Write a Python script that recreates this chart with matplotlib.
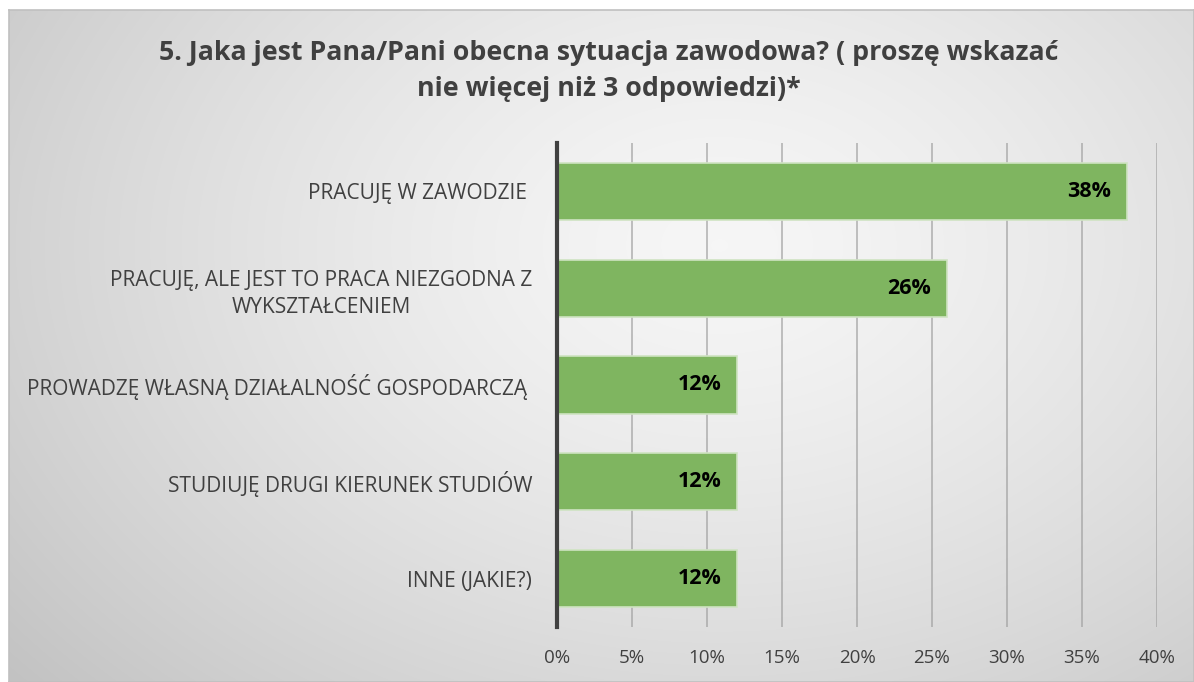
import matplotlib
matplotlib.use('Agg')
import matplotlib.pyplot as plt
import numpy as np

plt.rcParams['font.family'] = ['Open Sans', 'DejaVu Sans']

categories = [
    'PRACUJĘ W ZAWODZIE ',
    'PRACUJĘ, ALE JEST TO PRACA NIEZGODNA Z\nWYKSZTAŁCENIEM',
    'PROWADZĘ WŁASNĄ DZIAŁALNOŚĆ GOSPODARCZĄ ',
    'STUDIUJĘ DRUGI KIERUNEK STUDIÓW',
    'INNE (JAKIE?)',
]
values = [38, 26, 12, 12, 12]
xticks = [0, 5, 10, 15, 20, 25, 30, 35, 40]
title = '5. Jaka jest Pana/Pani obecna sytuacja zawodowa? ( proszę wskazać\nnie więcej niż 3 odpowiedzi)*'

W, H = 1194, 682
fig = plt.figure(figsize=(W / 100, H / 100), dpi=100)
fig.patch.set_facecolor('white')

# chart area with radial gray gradient
x0, y0, x1, y1 = 9, 10, 1194, 682
bg = fig.add_axes([x0 / W, 1 - y1 / H, (x1 - x0) / W, (y1 - y0) / H])
gx, gy = np.meshgrid(np.linspace(0, 1, 400), np.linspace(0, 1, 300))
r = np.sqrt(((gx - 0.6) / 0.75) ** 2 + ((gy - 0.35) / 0.95) ** 2)
shade = 0.965 - 0.19 * np.clip(r, 0, 1.2) ** 1.4
bg.imshow(np.dstack([shade] * 3), aspect='auto', extent=[0, 1, 1, 0], interpolation='bilinear')
bg.set_xticks([])
bg.set_yticks([])
for s in bg.spines.values():
    s.set_color('#c0c0c0')
    s.set_linewidth(1.2)

bg.text((W / 2 + 12 - x0) / (x1 - x0), 1 - (71 - y0) / (y1 - y0), title,
        transform=bg.transAxes, ha='center', va='center', fontsize=19.3,
        fontweight='bold', color='#404040', linespacing=1.45)

# plot area
px0, px1, py0, py1 = 557, 1157, 143, 627
ax = fig.add_axes([px0 / W, 1 - py1 / H, (px1 - px0) / W, (py1 - py0) / H])
ax.patch.set_alpha(0)
y = np.arange(len(values))
ax.barh(y, values, height=0.59, color='#7fb560', edgecolor='#cfe3c2', linewidth=1.2, zorder=3)
ax.set_ylim(len(values) - 0.5, -0.5)
ax.set_xlim(0, 40)
ax.set_xticks(xticks)
ax.set_xticklabels([f'{t}%' for t in xticks], fontsize=13.5, color='#404040')
ax.set_yticks(y)
ax.set_yticklabels(categories, fontsize=15, color='#404040', multialignment='center',
                   linespacing=1.4)
ax.tick_params(axis='both', length=0)
ax.tick_params(axis='x', pad=16)
ax.tick_params(axis='y', pad=18)
ax.grid(axis='x', color='#a0a0a0', linewidth=1.3, alpha=0.7, zorder=1)
for s in ['top', 'right', 'bottom']:
    ax.spines[s].set_visible(False)
ax.spines['left'].set_color('#404040')
ax.spines['left'].set_linewidth(3)
ax.spines['left'].set_zorder(4)

for yi, v in zip(y, values):
    ax.text(v - 1.05, yi, f'{v}%', ha='right', va='center', fontsize=15.5,
            fontweight='bold', color='black', zorder=5)

fig.savefig('out.png', dpi=100)
